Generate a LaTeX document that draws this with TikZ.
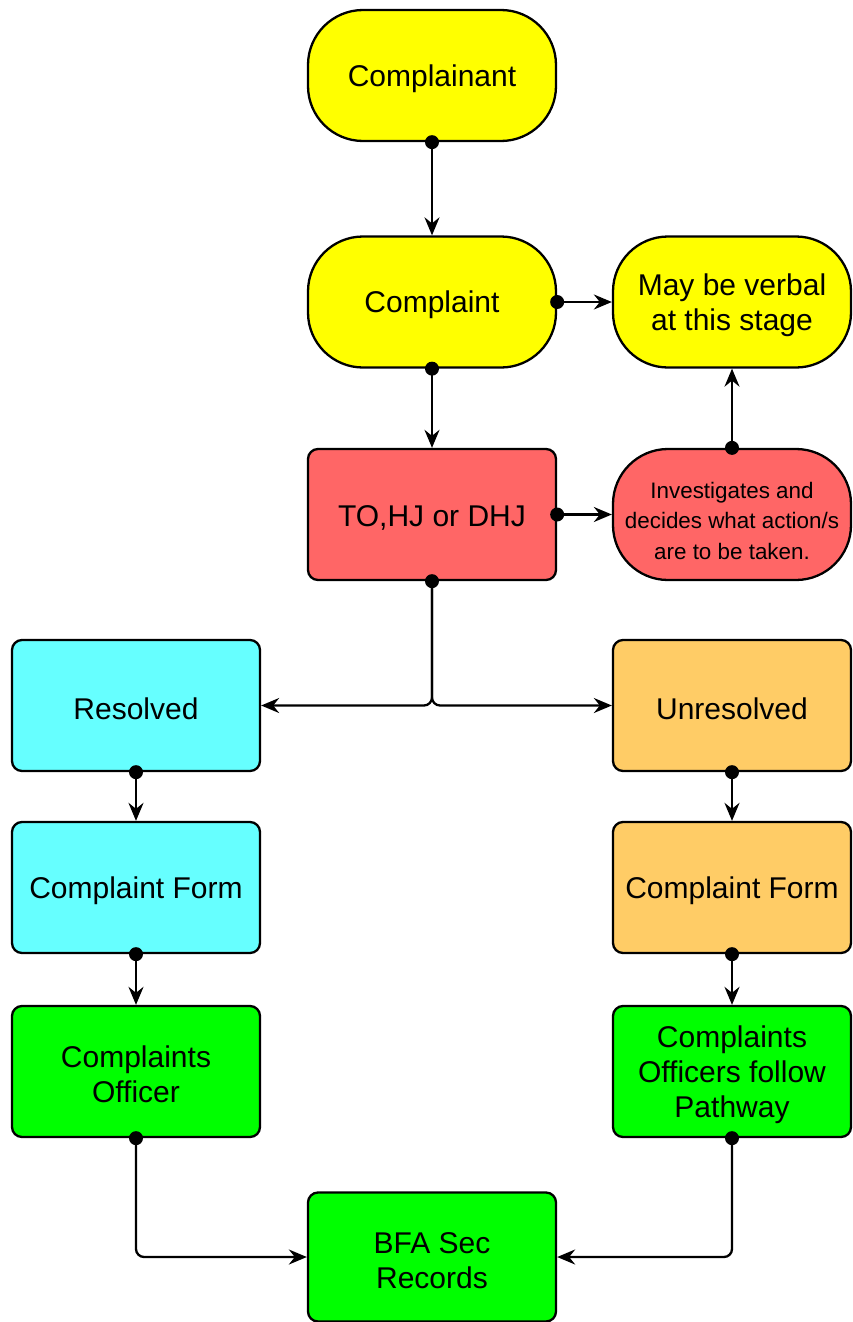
\documentclass[tikz,border=0pt]{standalone}
\usepackage{fontspec}
\setmainfont{Liberation Sans}
\usetikzlibrary{arrows.meta}
\definecolor{cyellow}{HTML}{FFFF00}
\definecolor{cred}{HTML}{FF6666}
\definecolor{ccyan}{HTML}{66FFFF}
\definecolor{corange}{HTML}{FFCC66}
\definecolor{cgreen}{HTML}{00FF00}
\newcommand\tup{\rule{0pt}{28pt}}
\begin{document}
\begin{tikzpicture}[x=1pt,y=-1pt,
 box/.style={draw, line width=2.3pt, minimum width=248pt, minimum height=131pt, inner sep=0pt, align=center, font=\fontsize{30}{35}\selectfont, rounded corners=10pt},
 oval/.style={box, rounded corners=55pt},
 rbox/.style={minimum width=238pt},
 conn/.style={line width=2.3pt, -{Stealth[length=18pt,width=15pt,inset=6pt]}},
 dot/.style={fill=black},
]
\useasboundingbox (0,0) rectangle (853,1322);
\node[oval, fill=cyellow] (cmpt) at (432,75.5) {\tup Complainant};
\node[oval, fill=cyellow] (cmp) at (432,302) {\tup Complaint};
\node[oval, rbox, fill=cyellow] (verbal) at (732,302) {\tup May be verbal\\at this stage};
\node[box, fill=cred] (to) at (432,514.5) {\tup TO,HJ or DHJ};
\node[oval, rbox, fill=cred, font=\fontsize{22.4}{30.5}\selectfont] (inv) at (732,514.5) {\rule{0pt}{29pt}Investigates and\\decides what action/s\\are to be taken.};
\node[box, fill=ccyan] (res) at (136,705.5) {\tup Resolved};
\node[box, rbox, fill=corange] (unres) at (732,705.5) {\tup Unresolved};
\node[box, fill=ccyan] (cfl) at (136,887.5) {\tup Complaint Form};
\node[box, rbox, fill=corange] (cfr) at (732,887.5) {\tup Complaint Form};
\node[box, fill=cgreen] (off) at (136,1071.5) {\tup Complaints\\Officer};
\node[box, rbox, fill=cgreen] (path) at (732,1071.5) {\tup Complaints\\Officers follow\\Pathway};
\node[box, fill=cgreen, minimum height=129pt] (bfa) at (432,1257) {\tup BFA Sec\\Records};

\draw[conn] (cmpt.south) -- (cmp.north);
\draw[conn] (cmp.east) -- (verbal.west);
\draw[conn] (cmp.south) -- (to.north);
\draw[conn] (to.east) -- (inv.west);
\draw[conn] (inv.north) -- (verbal.south);
\draw[conn, rounded corners=8pt] (to.south) |- (res.east);
\draw[conn, rounded corners=8pt] (to.south) |- (unres.west);
\draw[conn] (res.south) -- (cfl.north);
\draw[conn] (cfl.south) -- (off.north);
\draw[conn] (unres.south) -- (cfr.north);
\draw[conn] (cfr.south) -- (path.north);
\draw[conn, rounded corners=8pt] (off.south) |- (bfa.west);
\draw[conn, rounded corners=8pt] (path.south) |- (bfa.east);

\foreach \a in {cmpt.south, cmp.east, cmp.south, to.east, inv.north, to.south, res.south, cfl.south, unres.south, cfr.south, off.south, path.south}
  \fill[dot] (\a) circle (7pt);
\end{tikzpicture}
\end{document}
